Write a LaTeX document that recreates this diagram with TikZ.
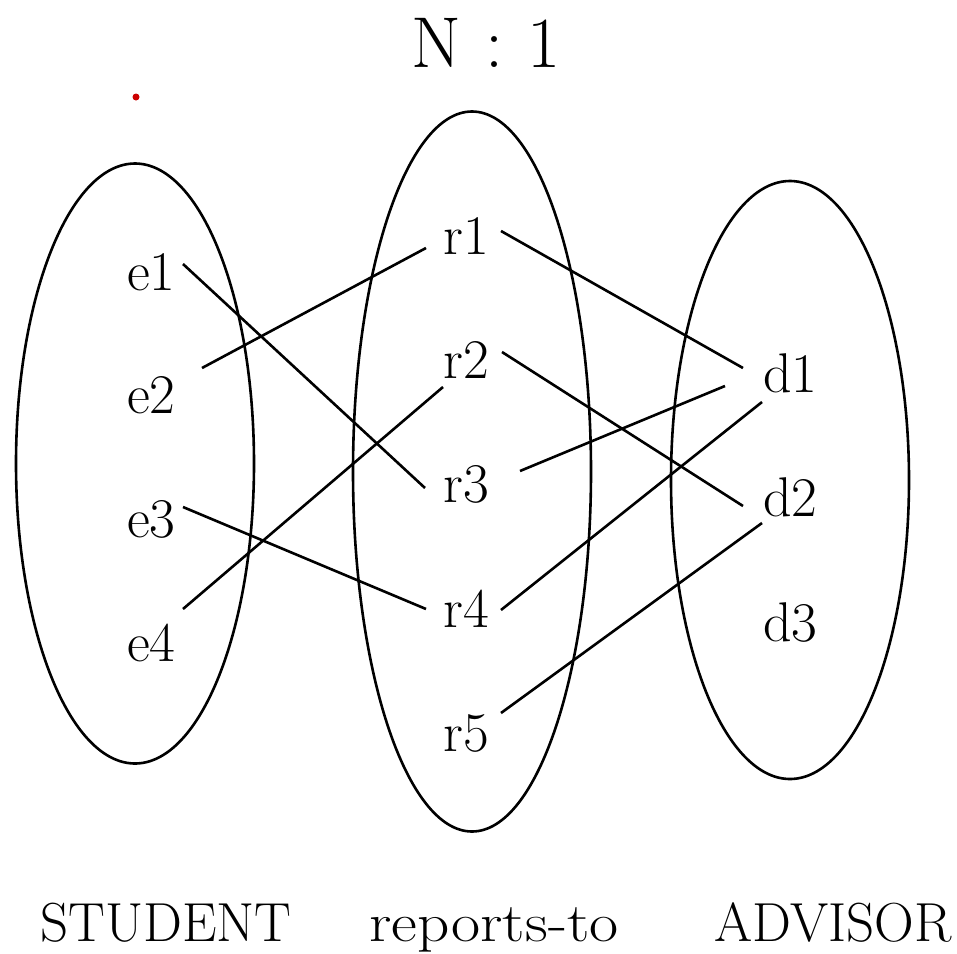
\documentclass[tikz,border=0pt]{standalone}
\usepackage{fontspec}
\usepackage{graphicx}
\begin{document}
\begin{tikzpicture}[x=1pt,y=-1pt,
  lbl/.style={inner sep=0pt,anchor=base west,font=\fontsize{56}{60}\selectfont},
  caption/.style={inner sep=0pt,anchor=base,font=\fontsize{55}{60}\selectfont},
  conn/.style={line width=2.6pt},
  setshape/.style={line width=2.6pt}]
\useasboundingbox (0,0) rectangle (957,953);
% title
\node[inner sep=0pt,anchor=base,font=\fontsize{72}{76}\selectfont] (title) at (486,67) {N\,\,:\,\,1};
\fill[red!80!black] (136,97) circle (3.5);
% sets
\draw[setshape] (135,463.5) ellipse [x radius=119, y radius=300];
\draw[setshape] (472,471.5) ellipse [x radius=119, y radius=360];
\draw[setshape] (790,480) ellipse [x radius=119, y radius=299];
% elements
\node[lbl] (e1) at (127,290) {e1};
\node[lbl] (e2) at (127,413) {e2};
\node[lbl] (e3) at (127,537) {e3};
\node[lbl] (e4) at (127,661) {e4};
\node[lbl] (r1) at (443,254) {r1};
\node[lbl] (r2) at (443,378) {r2};
\node[lbl] (r3) at (443,502) {r3};
\node[lbl] (r4) at (443,627) {r4};
\node[lbl] (r5) at (443,751) {r5};
\node[lbl] (d1) at (763,392) {d1};
\node[lbl] (d2) at (763,516) {d2};
\node[lbl] (d3) at (763,641) {d3};
% bottom captions
\node[caption] (student) at (166,941) {STUDENT};
\node[caption] (reports) at (494,941) {\scalebox{1.15}[1]{reports-to}};
\node[caption] (advisor) at (833,941) {ADVISOR};
% connector end points
\coordinate (e1o) at (183,264);
\coordinate (e2o) at (202,368);
\coordinate (e3o) at (183,507);
\coordinate (e4o) at (183,609);
\coordinate (r1i) at (426,248);
\coordinate (r2i) at (443,387);
\coordinate (r3i) at (425,488);
\coordinate (r4i) at (426,609);
\coordinate (r1o) at (501,231);
\coordinate (r2o) at (502,352);
\coordinate (r3o) at (520,471);
\coordinate (r4o) at (501,610);
\coordinate (r5o) at (501,713);
\coordinate (d1a) at (743,368);
\coordinate (d1b) at (725,386);
\coordinate (d1c) at (762,402);
\coordinate (d2a) at (743,506);
\coordinate (d2b) at (762,523);
% connectors
\draw[conn] (e1o) -- (r3i);
\draw[conn] (e2o) -- (r1i);
\draw[conn] (e3o) -- (r4i);
\draw[conn] (e4o) -- (r2i);
\draw[conn] (r1o) -- (d1a);
\draw[conn] (r3o) -- (d1b);
\draw[conn] (r4o) -- (d1c);
\draw[conn] (r2o) -- (d2a);
\draw[conn] (r5o) -- (d2b);
\end{tikzpicture}
\end{document}
